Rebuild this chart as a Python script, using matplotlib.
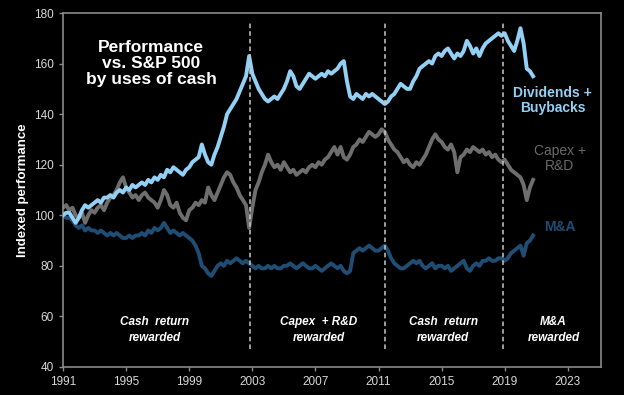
import numpy as np
import matplotlib.pyplot as plt

# quarterly-ish samples, every 0.2 years from 1991.0 to 2020.8
years = np.round(np.arange(1991.0, 2020.81, 0.2), 1)

div_buyback = [
    100, 101, 101, 99, 97,
    99, 102, 104, 103, 104,
    105, 106, 105, 107, 107,
    108, 107, 109, 110, 109,
    111, 110, 112, 111, 112,
    113, 112, 114, 113, 115,
    114, 116, 115, 118, 117,
    119, 118, 117, 116, 118,
    119, 121, 122, 123, 128,
    124, 121, 120, 124, 127,
    131, 135, 140, 142, 144,
    146, 149, 152, 155, 163,
    156, 153, 150, 148, 146,
    145, 146, 147, 146, 148,
    150, 153, 157, 155, 151,
    150, 152, 154, 156, 155,
    154, 155, 156, 155, 157,
    156, 157, 158, 160, 161,
    153, 147, 146, 148, 147,
    146, 148, 147, 148, 147,
    146, 145, 144, 145, 147,
    148, 150, 152, 151, 150,
    150, 153, 155, 158, 159,
    160, 161, 160, 163, 164,
    163, 165, 166, 164, 162,
    164, 163, 165, 169, 167,
    164, 166, 163, 166, 168,
    169, 170, 171, 172, 171,
    172, 169, 167, 165, 169,
    174, 168, 158, 157, 155,
]

capex_rd = [
    103, 104, 102, 103, 100,
    99, 101, 97, 100, 102,
    101, 103, 104, 102, 105,
    107, 108, 110, 113, 115,
    111, 109, 107, 108, 106,
    108, 109, 107, 106, 105,
    103, 106, 110, 108, 104,
    103, 105, 101, 99, 98,
    102, 103, 105, 104, 106,
    105, 111, 108, 106, 109,
    112, 115, 117, 116, 113,
    111, 108, 106, 104, 95,
    103, 110, 113, 117, 120,
    124, 121, 119, 120, 118,
    121, 119, 117, 118, 116,
    117, 118, 117, 119, 120,
    119, 121, 120, 122, 123,
    125, 127, 124, 127, 123,
    122, 124, 127, 128, 130,
    129, 131, 133, 132, 131,
    132, 134, 133, 130, 128,
    126, 125, 123, 121, 122,
    120, 119, 121, 120, 122,
    124, 127, 130, 132, 130,
    129, 127, 126, 128, 125,
    117, 123, 124, 126, 125,
    127, 126, 125, 126, 124,
    125, 123, 124, 122, 121,
    122, 120, 118, 117, 116,
    115, 112, 106, 111, 114,
]

m_and_a = [
    100, 99, 99, 98, 96,
    95, 96, 94, 95, 94,
    94, 93, 94, 93, 92,
    93, 92, 93, 92, 91,
    91, 92, 91, 92, 92,
    93, 92, 94, 93, 95,
    94, 95, 97, 95, 93,
    94, 93, 92, 93, 92,
    91, 90, 88, 85, 80,
    79, 77, 76, 78, 80,
    81, 80, 82, 81, 82,
    83, 82, 81, 82, 81,
    80, 79, 80, 79, 79,
    80, 79, 80, 79, 79,
    80, 80, 81, 80, 79,
    80, 81, 80, 79, 79,
    80, 79, 78, 79, 80,
    81, 80, 79, 80, 78,
    77, 78, 85, 86, 87,
    86, 87, 88, 87, 86,
    86, 87, 88, 86, 83,
    81, 80, 79, 79, 80,
    81, 82, 81, 82, 80,
    79, 80, 81, 79, 80,
    80, 79, 80, 78, 79,
    80, 81, 82, 79, 78,
    80, 81, 80, 82, 82,
    83, 82, 82, 83, 83,
    82, 83, 85, 86, 87,
    88, 84, 89, 90, 92,
]

regime_breaks = [2002.85, 2011.4, 2018.9]
regime_labels = ["Cash  return\nrewarded", "Capex  + R&D\nrewarded",
                 "Cash  return\nrewarded", "M&A\nrewarded"]
regime_label_x = [1996.8, 2007.2, 2015.1, 2022.1]

c_div = "#93d0f5"
c_capex = "#6e6e6e"
c_ma = "#1f4d73"
c_axis = "#8a8a8a"
c_tick = "#d9d9d9"

plt.rcParams['font.family'] = ['Liberation Sans', 'DejaVu Sans']

fig = plt.figure(figsize=(6.24, 3.95), dpi=100, facecolor="black")
ax = fig.add_axes([0.101, 0.071, 0.862, 0.896], facecolor="black")

ax.plot(years, capex_rd, color=c_capex, lw=2.8, zorder=2)
ax.plot(years, m_and_a, color=c_ma, lw=2.8, zorder=2)
ax.plot(years, div_buyback, color=c_div, lw=2.8, zorder=3)

for xb in regime_breaks:
    ax.plot([xb, xb], [47, 177], color="#c8c8c8", lw=1.1, ls=(0, (3, 2)), zorder=4)

for xl, txt in zip(regime_label_x, regime_labels):
    ax.text(xl, 54.7, txt, color="white", fontsize=8.5, fontstyle="italic",
            fontweight="bold", ha="center", va="center", linespacing=1.45)

ax.text(1996.6, 160, "Performance\nvs. S&P 500\nby uses of cash", color="white",
        fontsize=12.5, fontweight="bold", ha="center", va="center", linespacing=1.05)

ax.text(2022.05, 145.5, "Dividends +\nBuybacks", color=c_div, fontsize=10,
        fontweight="bold", ha="center", va="center", linespacing=1.1)
ax.text(2022.5, 122.5, "Capex +\nR&D", color="#6a6a6a", fontsize=10,
        ha="center", va="center", linespacing=1.1)
ax.text(2022.5, 95.5, "M&A", color=c_ma, fontsize=10, fontweight="bold",
        ha="center", va="center")

ax.set_xlim(1991, 2025.1)
ax.set_ylim(40, 180)
ax.set_xticks(range(1991, 2024, 4))
ax.set_yticks(range(40, 181, 20))
ax.tick_params(colors=c_axis, labelcolor=c_tick, labelsize=8.5, length=3, width=1)
for side in ["left", "right", "top", "bottom"]:
    ax.spines[side].set_color(c_axis)
    ax.spines[side].set_linewidth(1.2)

ax.set_ylabel("Indexed performance", color="white", fontsize=9.5, fontweight="bold",
              labelpad=4)

fig.savefig("out.png", dpi=100, facecolor="black")
